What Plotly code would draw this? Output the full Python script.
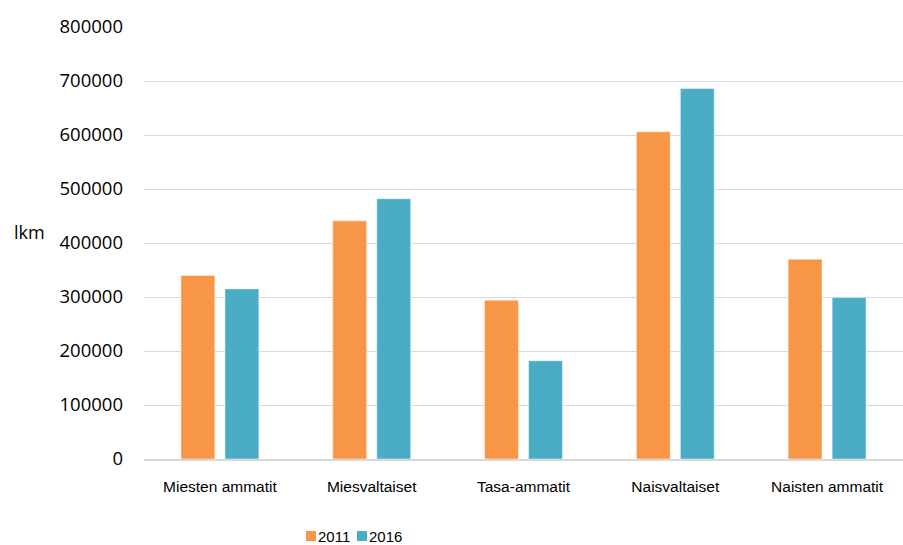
import plotly.graph_objects as go

# Occupational groups and counts (lkm) for the two survey years
categories = ["Miesten ammatit", "Miesvaltaiset", "Tasa-ammatit", "Naisvaltaiset", "Naisten ammatit"]
values_2011 = [340000, 441000, 294000, 606000, 370000]
values_2016 = [315000, 482000, 182000, 686000, 299000]
y_ticks = [0, 100000, 200000, 300000, 400000, 500000, 600000, 700000, 800000]
series_names = ["2011", "2016"]

ORANGE = "#F79646"
BLUE = "#4BACC6"
NARROW = "Liberation Sans, Arial, sans-serif"
WIDE = "Open Sans, DejaVu Sans, sans-serif"

# Plot-area geometry in pixels (used to place the legend keys)
W, H = 903, 545
L, R, T, B = 144, 0, 27, 86
PW, PH = W - L - R, H - T - B


def px_x(x):
    return (x - L) / PW


def px_y(y):
    return (H - B - y) / PH


fig = go.Figure()
for name, vals, col in [(series_names[0], values_2011, ORANGE), (series_names[1], values_2016, BLUE)]:
    fig.add_trace(go.Bar(
        x=categories, y=vals, name=name,
        marker=dict(color=col, line=dict(color="rgba(255,255,255,0.45)", width=1)),
    ))

# Compact legend: small colour keys with the year right next to them
shapes, annotations = [], []
legend_keys = [(306, ORANGE, series_names[0]), (357, BLUE, series_names[1])]
for x0, col, label in legend_keys:
    shapes.append(dict(
        type="rect", xref="paper", yref="paper",
        x0=px_x(x0), x1=px_x(x0 + 10), y0=px_y(541), y1=px_y(531),
        fillcolor=col, line=dict(width=0),
    ))
    annotations.append(dict(
        text=label, xref="paper", yref="paper",
        x=px_x(x0 + 10), y=px_y(536), xanchor="left", yanchor="middle",
        showarrow=False, font=dict(family=NARROW, size=15, color="#000000"),
    ))

annotations.append(dict(
    text="lkm", xref="paper", yref="paper",
    x=px_x(12), y=px_y(232), xanchor="left", yanchor="middle", showarrow=False,
    font=dict(family=WIDE, size=18, color="#000000"),
))

fig.update_layout(
    width=W, height=H,
    margin=dict(l=L, r=R, t=T, b=B),
    paper_bgcolor="white", plot_bgcolor="white",
    barmode="group", bargap=0.42, bargroupgap=0.23,
    showlegend=False,
    xaxis=dict(
        showgrid=False, showline=True, linecolor="#d9d9d9", linewidth=1.5,
        ticks="", tickfont=dict(family=NARROW, size=15.5, color="#000000"),
        ticklabelstandoff=13,
    ),
    yaxis=dict(
        range=[0, 800000], tickvals=y_ticks, ticktext=[str(v) for v in y_ticks],
        showgrid=True, gridcolor="#d9d9d9", gridwidth=1, zeroline=False,
        showline=False, ticks="",
        tickfont=dict(family=WIDE, size=18.5, color="#000000"),
        ticklabelstandoff=20,
    ),
    shapes=shapes,
    annotations=annotations,
)

fig.write_html("out.html")
